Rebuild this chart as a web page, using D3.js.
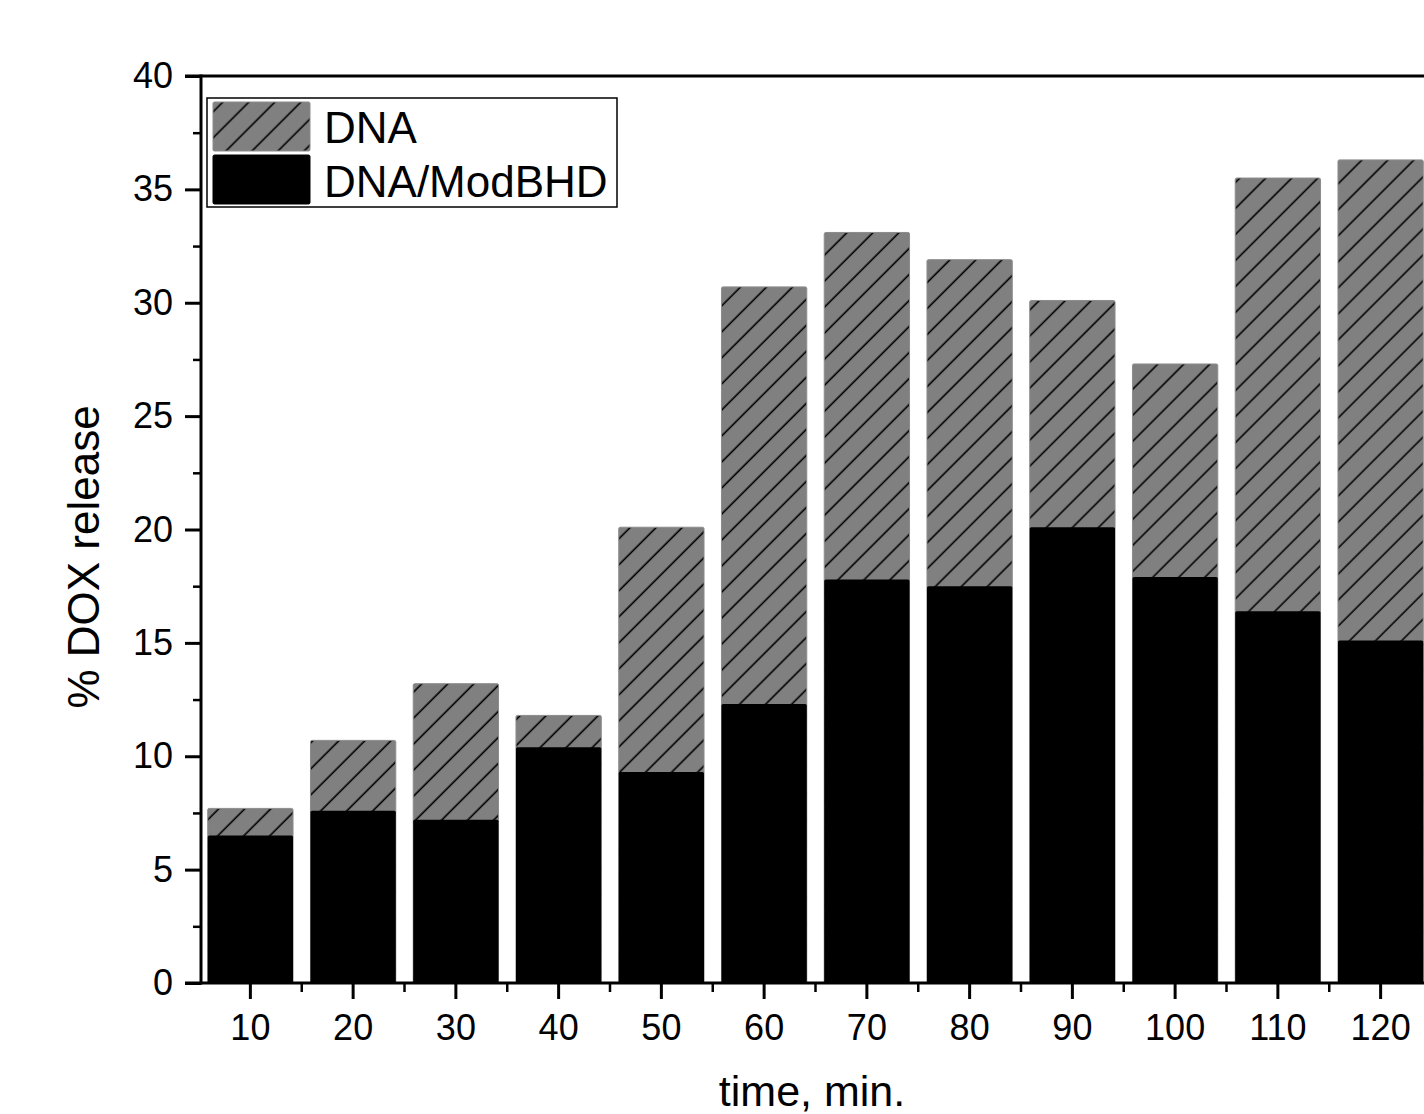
<!DOCTYPE html>
<html>
<head>
<meta charset="utf-8">
<script src="https://cdn.jsdelivr.net/npm/d3@7"></script>
<style>
  body { margin: 0; background: #fff; }
  text { font-family: "Liberation Sans", Arial, sans-serif; fill: #000; }
</style>
</head>
<body>
<div id="chart"></div>
<script>
// data
const times = ["10", "20", "30", "40", "50", "60", "70", "80", "90", "100", "110", "120"];
const dnaValues = [7.7, 10.7, 13.2, 11.8, 20.1, 30.7, 33.1, 31.9, 30.1, 27.3, 35.5, 36.3];
const modValues = [6.5, 7.6, 7.2, 10.4, 9.3, 12.3, 17.8, 17.5, 20.1, 17.9, 16.4, 15.1];
const yTicks = [0, 5, 10, 15, 20, 25, 30, 35, 40];
const yMinorTicks = [2.5, 7.5, 12.5, 17.5, 22.5, 27.5, 32.5, 37.5];
const seriesNames = ["DNA", "DNA/ModBHD"];

const W = 1424, H = 1114;
const plotLeft = 201, plotTop = 76, plotBottom = 983, plotRight = 1432;
const font = "'Liberation Sans', Arial, sans-serif";

const svg = d3.select("#chart")
  .append("svg")
  .attr("width", W)
  .attr("height", H);

// hatch pattern for the DNA bars
const defs = svg.append("defs");
const pat = defs.append("pattern")
  .attr("id", "hatch")
  .attr("patternUnits", "userSpaceOnUse")
  .attr("width", 18.4)
  .attr("height", 18.4)
  .attr("patternTransform", "rotate(45)");
pat.append("rect").attr("width", 18.4).attr("height", 18.4).attr("fill", "#808080");
pat.append("line")
  .attr("x1", 9).attr("x2", 9).attr("y1", 0).attr("y2", 18.4)
  .attr("stroke", "#000").attr("stroke-width", 1.6);

const x = d3.scaleBand()
  .domain(times)
  .range([199, plotRight])
  .paddingInner(0.17)
  .paddingOuter(0.085);

const y = d3.scaleLinear().domain([0, 40]).range([plotBottom, plotTop]);

// DNA bars (behind)
svg.append("g")
  .selectAll("rect")
  .data(times)
  .join("rect")
  .attr("x", d => x(d))
  .attr("width", x.bandwidth())
  .attr("y", (d, i) => y(dnaValues[i]))
  .attr("height", (d, i) => y(0) - y(dnaValues[i]))
  .attr("fill", "url(#hatch)")
  .attr("stroke", "#8c8c8c")
  .attr("stroke-width", 1)
  .attr("rx", 1.5);

// DNA/ModBHD bars (front)
svg.append("g")
  .selectAll("rect")
  .data(times)
  .join("rect")
  .attr("x", d => x(d))
  .attr("width", x.bandwidth())
  .attr("y", (d, i) => y(modValues[i]))
  .attr("height", (d, i) => y(0) - y(modValues[i]))
  .attr("fill", "#000")
  .attr("rx", 1.5);

// y axis
const yAxis = svg.append("g")
  .attr("transform", `translate(${plotLeft},0)`)
  .call(d3.axisLeft(y).tickValues(yTicks).tickSize(16).tickPadding(12));
yAxis.select(".domain").attr("stroke-width", 3).attr("d", `M0,${plotBottom + 1.5}V${plotTop - 1.5}`);
yAxis.selectAll(".tick line").attr("stroke-width", 3);
yAxis.selectAll(".tick text").attr("font-size", 36).attr("font-family", font);

svg.append("g")
  .attr("transform", `translate(${plotLeft},0)`)
  .call(d3.axisLeft(y).tickValues(yMinorTicks).tickSize(8).tickFormat(""))
  .call(g => g.select(".domain").remove())
  .selectAll("line").attr("stroke-width", 2.5);

// x axis
const xAxis = svg.append("g")
  .attr("transform", `translate(0,${plotBottom})`)
  .call(d3.axisBottom(x).tickSize(16).tickPadding(15));
xAxis.select(".domain").attr("stroke-width", 3).attr("d", `M${plotLeft - 16},0H${plotRight}`);
xAxis.selectAll(".tick line").attr("stroke-width", 3);
xAxis.selectAll(".tick text").attr("font-size", 36).attr("font-family", font);

// minor x ticks at band edges
svg.append("g")
  .selectAll("line")
  .data(times.slice(1))
  .join("line")
  .attr("x1", d => x(d) - x.step() * x.paddingInner() / 2)
  .attr("x2", d => x(d) - x.step() * x.paddingInner() / 2)
  .attr("y1", plotBottom)
  .attr("y2", plotBottom + 9)
  .attr("stroke", "#000")
  .attr("stroke-width", 2.5);

// top frame line
svg.append("line")
  .attr("x1", plotLeft - 16).attr("x2", plotRight)
  .attr("y1", plotTop).attr("y2", plotTop)
  .attr("stroke", "#000").attr("stroke-width", 3);

// axis titles
svg.append("text")
  .attr("transform", `translate(99,557) rotate(-90)`)
  .attr("text-anchor", "middle")
  .attr("font-size", 44)
  .text("% DOX release");

svg.append("text")
  .attr("x", 812)
  .attr("y", 1106)
  .attr("text-anchor", "middle")
  .attr("font-size", 43)
  .text("time, min.");

// legend
const legend = svg.append("g");
legend.append("rect")
  .attr("x", 207).attr("y", 98)
  .attr("width", 410).attr("height", 109)
  .attr("fill", "#fff")
  .attr("stroke", "#000")
  .attr("stroke-width", 1.5);

const swatchFills = ["url(#hatch)", "#000"];
seriesNames.forEach((name, i) => {
  legend.append("rect")
    .attr("x", 213).attr("y", 102 + i * 53)
    .attr("width", 97).attr("height", 49)
    .attr("fill", swatchFills[i])
    .attr("stroke", i === 0 ? "#8c8c8c" : "#000")
    .attr("rx", 1.5);
  legend.append("text")
    .attr("x", 324)
    .attr("y", 143 + i * 54)
    .attr("font-size", 44)
    .text(name);
});
</script>
</body>
</html>
